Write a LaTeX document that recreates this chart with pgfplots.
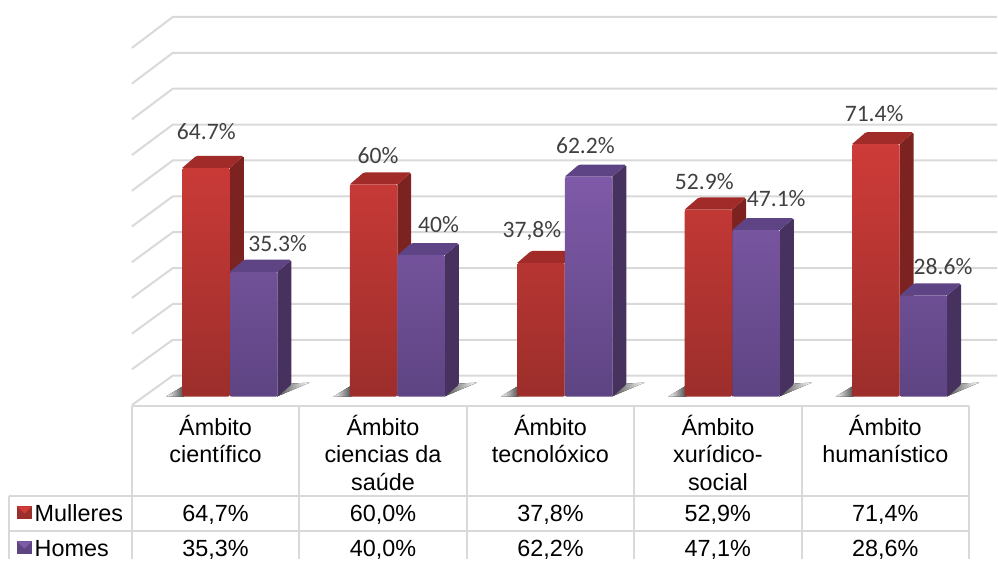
\documentclass[border=0pt]{standalone}
\usepackage{fontspec}
\usepackage{pgfplots}
\usepackage{pgfplotstable}
\pgfplotsset{compat=1.18}
\setmainfont{Liberation Sans}
\newfontfamily\labelfont{Carlito}

\definecolor{gridgray}{HTML}{D9D9D9}
\definecolor{labelgray}{HTML}{404040}
\definecolor{redtop}{HTML}{CE3B38}
\definecolor{redbot}{HTML}{9C2E2B}
\definecolor{redside}{HTML}{7C2321}
\definecolor{redcap}{HTML}{A02B28}
\definecolor{purtop}{HTML}{7F5AA8}
\definecolor{purbot}{HTML}{5E4483}
\definecolor{purside}{HTML}{46315F}
\definecolor{purcap}{HTML}{5E4484}

\pgfplotstableread{
idx mulleres homes
0   64.7     35.3
1   60.0     40.0
2   37.8     62.2
3   52.9     47.1
4   71.4     28.6
}\datatable

% side and top faces of one bar: category, left, right, value, colour prefix
\newcommand\solidfaces[5]{%
  \pgfmathsetmacro\xl{#1+#2}%
  \pgfmathsetmacro\xr{#1+#3}%
  \pgfmathsetmacro\xlb{\xl+0.0835}%
  \pgfmathsetmacro\xrb{\xr+0.0835}%
  \pgfmathsetmacro\vb{#4+3.4}%
  \addplot[fill=#5side,draw=none,forget plot,rounded corners=1.5pt] coordinates {(\xr,0) (\xrb,3.4) (\xrb,\vb) (\xr,#4)};
  \addplot[fill=#5cap,draw=none,forget plot,rounded corners=1.5pt] coordinates {(\xl,#4) (\xlb,\vb) (\xrb,\vb) (\xr,#4)};
}

\begin{document}
\begin{tikzpicture}
  % back wall, floor and table lines, in picture pixels
  \begin{scope}[shift={(0pt,560pt)},x=1pt,y=-1pt]
    \foreach \k in {0,...,10} {
      \pgfmathsetmacro\yb{376-35.9*\k}
      \pgfmathsetmacro\yf{405.5-35.75*\k}
      \draw[gridgray,line width=2pt] (132,\yf) -- (173,\yb) -- (998,\yb);
    }
    % shadows on the floor, left and right of each pair of bars
    \foreach \c in {0,...,4} {
      \pgfmathsetmacro\sx{132+167.6*\c}
      \fill[left color=white,right color=black!70]
        (\sx+34,397) -- (\sx+52,386) -- (\sx+52,397) -- cycle;
      \fill[left color=black!70,right color=white]
        (\sx+145,397) -- (\sx+159,384) -- (\sx+178,383) -- cycle;
    }
    \foreach \x in {132,299.6,467.2,634.8,802.4,970}
      \draw[gridgray,line width=2pt] (\x,406) -- (\x,560);
    \draw[gridgray,line width=2pt] (132,406) -- (970,406);
    \draw[gridgray,line width=2pt] (9,496.5) -- (970,496.5);
    \draw[gridgray,line width=2pt] (9,531.5) -- (970,531.5);
    \draw[gridgray,line width=2pt] (9,496.5) -- (9,560);
  \end{scope}

  \begin{axis}[
    at={(0pt,0pt)},anchor=south west,
    scale only axis,width=998pt,height=560pt,
    xmin=-1.2876,xmax=4.667,
    ymin=-46.05,ymax=112.15,
    clip=false,
    axis line style={draw=none},
    ytick=\empty,
    xtick={0,1,2,3,4},
    xticklabels={{Ámbito\\científico},{Ámbito\\ciencias da\\saúde},{Ámbito\\tecnolóxico},{Ámbito\\xurídico-\\social},{Ámbito\\humanístico}},
    xtick style={draw=none},
    x tick label style={align=center,anchor=north,yshift=148pt,
      font=\fontsize{23.4}{27.6}\selectfont},
  ]
    \pgfplotsinvokeforeach{0,...,4}{
      \pgfplotstablegetelem{#1}{mulleres}\of\datatable
      \edef\val{\pgfplotsretval}
      \solidfaces{#1}{-0.1984}{0.0850}{\val}{red}
    }
    \addplot[ybar,bar width=47.5pt,bar shift=-9.5pt,draw=none,rounded corners=1.5pt,top color=redtop,bottom color=redbot]
      table[x=idx,y=mulleres]{\datatable};
    \pgfplotsinvokeforeach{0,...,4}{
      \pgfplotstablegetelem{#1}{homes}\of\datatable
      \edef\val{\pgfplotsretval}
      \solidfaces{#1}{0.0862}{0.3696}{\val}{pur}
    }
    \addplot[ybar,bar width=47.5pt,bar shift=38.2pt,draw=none,rounded corners=1.5pt,top color=purtop,bottom color=purbot]
      table[x=idx,y=homes]{\datatable};
  \end{axis}

  % data labels and table text, in picture pixels
  \begin{scope}[shift={(0pt,560pt)},x=1pt,y=-1pt,
      dl/.style={font=\labelfont\fontsize{23.6}{24}\selectfont,text=labelgray,inner sep=0pt,anchor=center},
      cell/.style={font=\fontsize{23.4}{24}\selectfont,inner sep=0pt,anchor=base}]
    \node[dl] at (206.5,132) {64.7\%};
    \node[dl] at (378.5,156) {60\%};
    \node[dl] at (278,243.5) {35.3\%};
    \node[dl] at (439,224.5) {40\%};
    \node[dl] at (532.5,231) {37,8\%};
    \node[dl] at (586,146) {62.2\%};
    \node[dl] at (705,182) {52.9\%};
    \node[dl] at (777,199) {47.1\%};
    \node[dl] at (875,113.5) {71.4\%};
    \node[dl] at (944,266.5) {28.6\%};

    \node[cell] at (215.8,522) {64,7\%};
    \node[cell] at (383.4,522) {60,0\%};
    \node[cell] at (551,522) {37,8\%};
    \node[cell] at (718.6,522) {52,9\%};
    \node[cell] at (886.2,522) {71,4\%};
    \node[cell] at (215.8,557) {35,3\%};
    \node[cell] at (383.4,557) {40,0\%};
    \node[cell] at (551,557) {62,2\%};
    \node[cell] at (718.6,557) {47,1\%};
    \node[cell] at (886.2,557) {28,6\%};

    \node[cell,anchor=base west] at (34.5,522) {Mulleres};
    \node[cell,anchor=base west] at (34.5,557) {Homes};
    \fill[redbot] (17,507) rectangle (32,520);
    \fill[redtop] (17,507) -- (32,507) -- (24.5,514) -- cycle;
    \fill[purbot] (17,542) rectangle (32,555);
    \fill[purtop] (17,542) -- (32,542) -- (24.5,549) -- cycle;
  \end{scope}
\end{tikzpicture}
\end{document}
